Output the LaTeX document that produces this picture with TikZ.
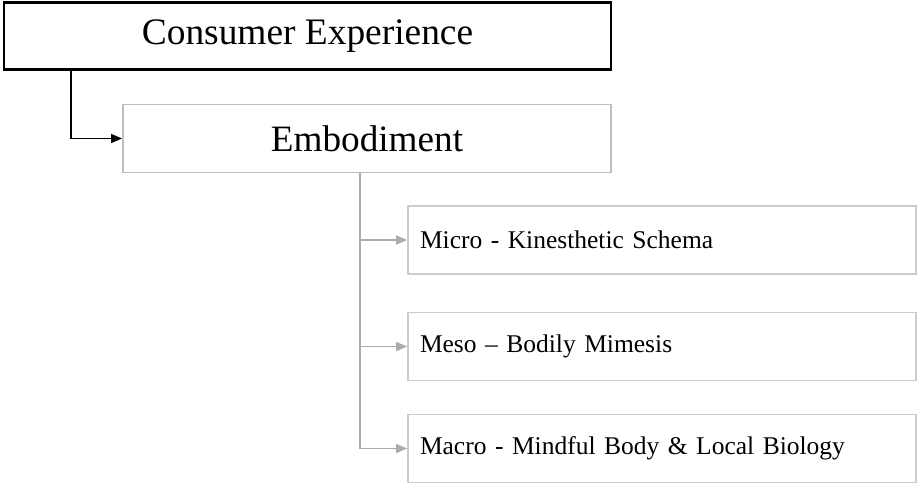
\documentclass[tikz,border=0pt]{standalone}
\usepackage{fontspec}
\setmainfont{Liberation Serif}
\usepackage{xcolor}
\usepackage{tikz}
\usetikzlibrary{arrows.meta}
\definecolor{boxgrey}{HTML}{BFBFBF}
\definecolor{linegrey}{HTML}{ABABAB}
\tikzstyle{topbox} = [draw=black,line width=2.2pt,minimum width=607pt,minimum height=67pt,inner sep=0pt,font=\fontsize{37.4}{40}\selectfont]
\tikzstyle{midbox} = [draw=boxgrey,line width=1.8pt,minimum width=488pt,minimum height=68pt,inner sep=0pt,font=\fontsize{37.2}{40}\selectfont]
\tikzstyle{levelbox} = [draw=boxgrey!80,line width=1.6pt,text width=484pt,inner xsep=12pt,minimum height=68pt,align=left,font=\fontsize{25.5}{28}\selectfont]
\tikzstyle{blackarrow} = [line width=1.3pt,-{Triangle[length=11pt,width=9pt]}]
\tikzstyle{greyarrow} = [linegrey,line width=1.3pt,-{Triangle[length=11pt,width=9pt]}]

\begin{document}
\begin{tikzpicture}[x=1pt,y=-1pt]
    \useasboundingbox (0,0) rectangle (919,483);
    % top levels
    \node[topbox] (exp) at (307.5,36) {Consumer Experience};
    \node[midbox] (emb) at (367,138.5) {Embodiment};
    % three levels
    \node[levelbox] (micro) at (662,240) {Micro - Kinesthetic Schema};
    \node[levelbox] (meso) at (662,346.5) {Meso -- Bodily Mimesis};
    \node[levelbox] (macro) at (662,448.5) {Macro - Mindful Body \& Local Biology};
    % connectors
    \draw[blackarrow] ([xshift=68pt]exp.south west) |- (emb.west);
    \draw[greyarrow] ([xshift=238pt]emb.south west) |- (micro.west);
    \draw[greyarrow] ([xshift=238pt]emb.south west) |- (meso.west);
    \draw[greyarrow] ([xshift=238pt]emb.south west) |- (macro.west);
\end{tikzpicture}
\end{document}
